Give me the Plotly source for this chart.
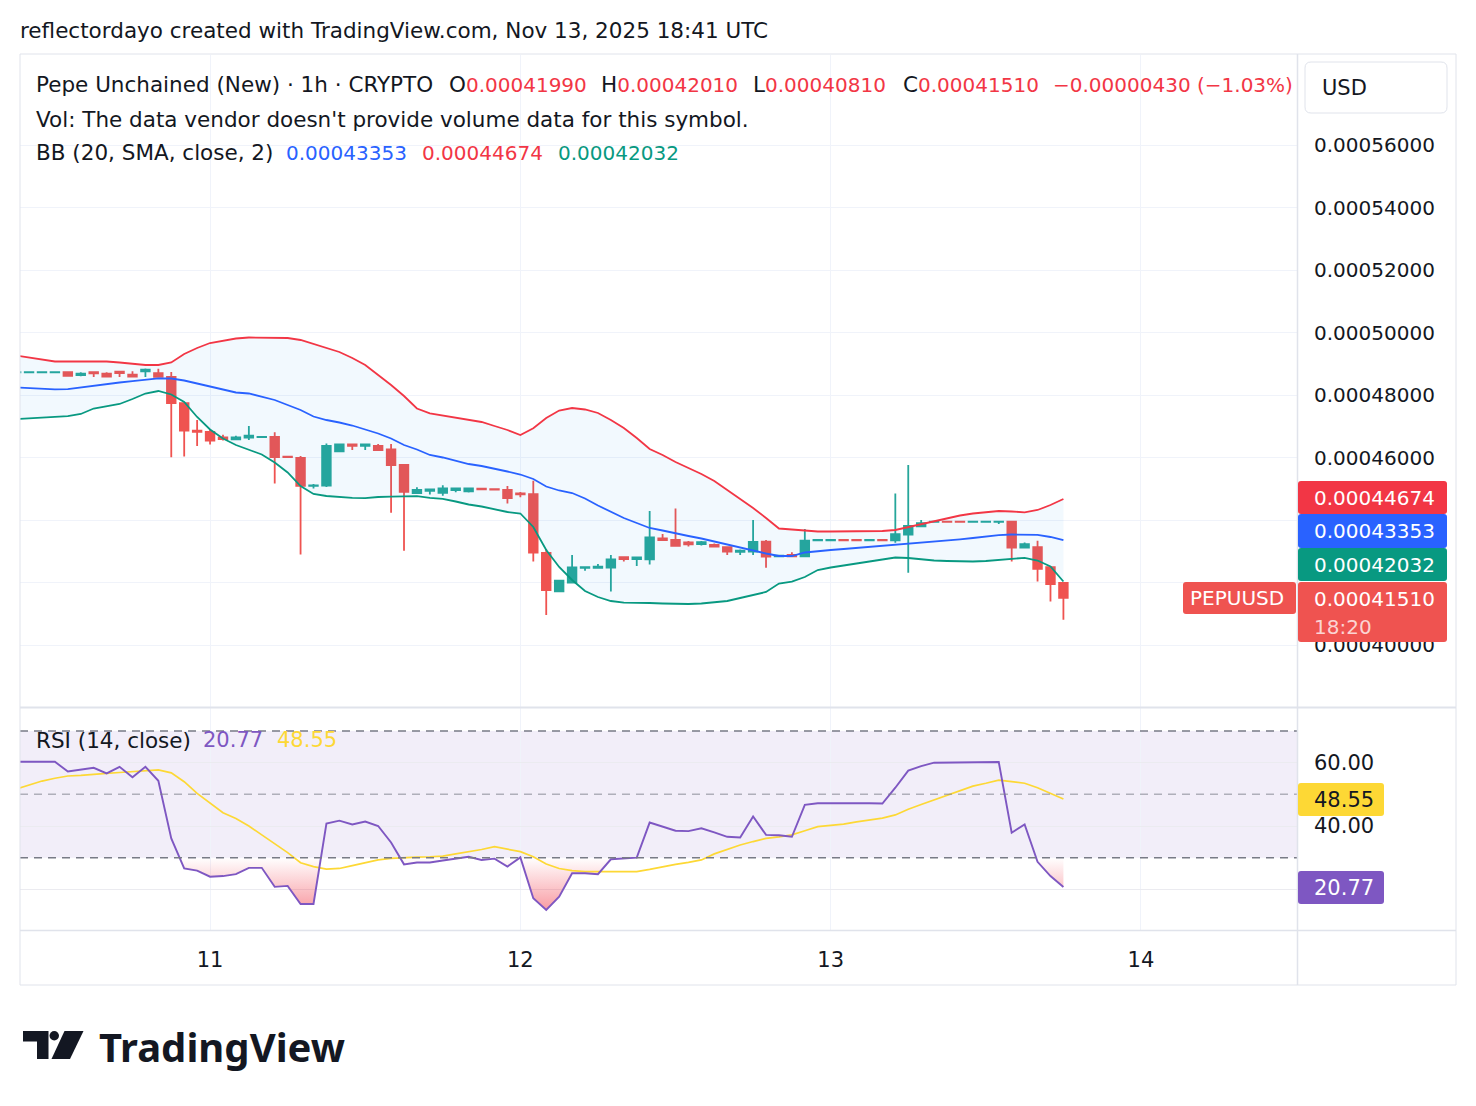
import numpy as np
import pandas as pd
import plotly.graph_objects as go

W, H = 1476, 1106

# ---------------- data ----------------
START = "2025-11-10 09:00"   # first hourly candle (UTC)
N_CANDLES = 82
times = pd.date_range(START, periods=N_CANDLES, freq="h")

UNIT = 1e-8  # prices below are written in units of 1e-8 USD

open_e8 = [48725, 48725, 48725, 48725, 48730, 48640, 48730, 48680, 48750, 48650,
           48760, 48700, 48580, 47740, 46860, 46820, 46640, 46580, 46640, 46650,
           46660, 46030, 45990, 45090, 45100, 46200, 46420, 46370, 46370, 46260,
           45760, 44860, 44930, 44870, 44960, 44920, 45000, 44990, 44960, 44850,
           44830, 42950, 41720, 42000, 42470, 42470, 42480, 42810, 42750, 42740,
           43410, 43360, 43280, 43230, 43200, 43130, 42980, 42990, 43310, 42840,
           42880, 42840, 43350, 43350, 43360, 43360, 43350, 43360, 43350, 43530,
           43800, 43940, 43950, 43950, 43940, 43940, 43940, 43950, 43120, 43130,
           42490, 41990]
high_e8 = [48730, 48730, 48730, 48730, 48730, 48730, 48730, 48730, 48750, 48760,
           48850, 48840, 48740, 47740, 47200, 46900, 46730, 46700, 47010, 46660,
           46810, 46030, 46050, 45150, 46450, 46440, 46420, 46420, 46430, 46430,
           45790, 45050, 44990, 45110, 45010, 45010, 45000, 44990, 45090, 44900,
           45260, 43070, 42060, 42880, 42490, 42590, 42880, 42810, 42800, 44290,
           43550, 44370, 43330, 43330, 43250, 43130, 43060, 44000, 43360, 42860,
           42970, 43710, 43360, 43360, 43360, 43360, 43360, 43360, 44850, 45760,
           44000, 43950, 43950, 43950, 43950, 43950, 43950, 43950, 43280, 43340,
           42530, 42010]
low_e8 = [48725, 48725, 48725, 48725, 48610, 48600, 48580, 48590, 48580, 48590,
          48580, 48580, 46010, 46030, 46370, 46420, 46540, 46560, 46560, 46650,
          45170, 46010, 42900, 45010, 45060, 46200, 46240, 46240, 46220, 44230,
          43020, 44860, 44820, 44780, 44890, 44880, 44980, 44970, 44530, 44730,
          42670, 40960, 41720, 42000, 42380, 42470, 41710, 42670, 42530, 42580,
          43360, 43170, 43150, 43180, 43150, 42880, 42880, 42880, 42470, 42840,
          42840, 42820, 43350, 43350, 43350, 43350, 43350, 43350, 43270, 42310,
          43800, 43940, 43940, 43940, 43940, 43940, 43870, 42670, 43120, 42030,
          41390, 40810]
close_e8 = [48730, 48730, 48730, 48730, 48610, 48680, 48690, 48590, 48700, 48590,
            48810, 48580, 47740, 46860, 46820, 46540, 46590, 46640, 46700, 46660,
            46010, 46010, 45090, 45110, 46370, 46420, 46370, 46420, 46240, 45760,
            44900, 44960, 44980, 45010, 45010, 45010, 44980, 44970, 44700, 44820,
            42960, 41760, 42060, 42480, 42490, 42510, 42740, 42750, 42800, 43440,
            43360, 43170, 43220, 43290, 43150, 42990, 43020, 43300, 42830, 42860,
            42840, 43340, 43360, 43360, 43350, 43350, 43360, 43350, 43550, 43810,
            43900, 43950, 43940, 43940, 43950, 43950, 43950, 43120, 43230, 42440,
            41950, 41510]

# Bollinger Bands (20, SMA, close, 2)
bb_upper_e8 = [49264, 49200, 49136, 49072, 49072, 49072, 49072, 49072, 49040, 48992,
               48960, 48960, 49040, 49312, 49504, 49664, 49744, 49808, 49840, 49840,
               49840, 49824, 49760, 49632, 49504, 49376, 49184, 48960, 48640, 48320,
               47968, 47568, 47414, 47344, 47296, 47216, 47136, 47008, 46880, 46720,
               46934, 47264, 47504, 47584, 47536, 47424, 47200, 46944, 46624, 46272,
               46080, 45856, 45664, 45472, 45248, 44960, 44672, 44384, 44064, 43728,
               43696, 43664, 43632, 43632, 43632, 43632, 43638, 43648, 43680, 43776,
               43872, 43968, 44064, 44144, 44208, 44256, 44288, 44272, 44246, 44320,
               44480, 44674]
bb_basis_e8 = [48240, 48214, 48192, 48182, 48186, 48240, 48304, 48352, 48400, 48442,
               48496, 48531, 48528, 48464, 48368, 48272, 48160, 48080, 48048, 47952,
               47840, 47680, 47520, 47312, 47200, 47120, 47024, 46896, 46768, 46608,
               46400, 46256, 46080, 46000, 45888, 45792, 45728, 45648, 45552, 45456,
               45312, 45072, 44944, 44864, 44688, 44464, 44256, 44064, 43904, 43744,
               43664, 43568, 43488, 43408, 43312, 43200, 43120, 43024, 42928, 42848,
               42848, 42960, 43008, 43040, 43072, 43104, 43136, 43168, 43200, 43232,
               43280, 43302, 43344, 43382, 43424, 43472, 43514, 43536, 43542, 43526,
               43456, 43353]
bb_lower_e8 = [47232, 47248, 47280, 47302, 47322, 47392, 47568, 47648, 47712, 47872,
               48048, 48128, 48016, 47776, 47296, 46896, 46608, 46400, 46240, 46096,
               45840, 45520, 45088, 44832, 44768, 44736, 44710, 44698, 44736, 44746,
               44752, 44762, 44710, 44678, 44592, 44496, 44432, 44352, 44256, 44208,
               43776, 43040, 42496, 42080, 41728, 41536, 41408, 41354, 41354, 41344,
               41328, 41312, 41312, 41328, 41360, 41408, 41504, 41600, 41696, 41968,
               42026, 42176, 42400, 42480, 42544, 42624, 42688, 42752, 42800, 42784,
               42742, 42704, 42688, 42672, 42672, 42688, 42726, 42752, 42790, 42704,
               42512, 42032]

# RSI (14, close) and its moving average
rsi_values = [60.3, 60.3, 60.3, 60.3, 57.2, 57.9, 58.4, 56.6, 58.7, 55.4,
              58.7, 54.3, 36.1, 26.6, 25.9, 24.0, 24.2, 24.8, 26.8, 26.8,
              20.8, 21.1, 15.4, 15.4, 40.8, 41.7, 40.5, 41.4, 40.0, 34.8,
              27.9, 28.5, 28.5, 29.1, 29.6, 30.3, 29.3, 29.7, 27.2, 30.1,
              17.2, 13.5, 17.7, 25.1, 25.1, 24.8, 29.5, 29.8, 30.0, 41.1,
              39.8, 38.5, 38.4, 39.3, 38.0, 36.6, 36.4, 43.0, 37.2, 37.1,
              36.6, 46.7, 47.2, 47.2, 47.2, 47.4, 47.2, 47.1, 52.1, 57.5,
              58.9, 60.0, 60.0, 60.0, 60.0, 60.0, 60.2, 37.9, 40.5, 28.7,
              24.2, 20.77]
rsi_ma_values = [51.7, 52.9, 54.2, 55.1, 55.8, 56.0, 56.4, 56.6, 56.9, 57.2,
                 57.5, 57.7, 56.8, 54.0, 50.3, 47.2, 44.2, 42.4, 40.0, 37.2,
                 34.3, 31.6, 28.4, 27.2, 26.4, 26.6, 27.5, 28.5, 29.3, 29.8,
                 30.1, 30.2, 30.3, 30.5, 31.2, 31.8, 32.6, 33.5, 32.6, 31.9,
                 30.3, 28.0, 26.6, 25.9, 25.6, 25.5, 25.6, 25.6, 25.6, 26.3,
                 27.2, 27.9, 28.5, 29.3, 31.2, 32.6, 34.0, 35.1, 36.1, 36.6,
                 37.2, 38.5, 39.8, 40.2, 40.6, 41.3, 41.9, 42.5, 43.5, 45.3,
                 46.8, 48.2, 49.8, 51.2, 52.6, 53.5, 54.5, 54.0, 53.5, 52.1,
                 50.3, 48.55]

price_ticks = [0.00040, 0.00042, 0.00044, 0.00046, 0.00048, 0.00050, 0.00052, 0.00054, 0.00056]
# labels hidden behind the last-value boxes are left blank (gridlines kept)
price_tick_text = ["0.00040000", "", "", "0.00046000", "0.00048000", "0.00050000",
                   "0.00052000", "0.00054000", "0.00056000"]
rsi_ticks = [20, 40, 60]
rsi_tick_text = ["", "40.00", "60.00"]
day_ticks = ["2025-11-11", "2025-11-12", "2025-11-13", "2025-11-14"]
day_labels = ["11", "12", "13", "14"]
RSI_UPPER, RSI_MID, RSI_LOWER = 70, 50, 30

symbol_line = "Pepe Unchained (New) · 1h · CRYPTO"
ohlc_labels = ["O", "H", "L", "C"]
ohlc_last = ["0.00041990", "0.00042010", "0.00040810", "0.00041510"]
change_text = "−0.00000430 (−1.03%)"
bb_last = ["0.00043353", "0.00044674", "0.00042032"]
rsi_last = ["20.77", "48.55"]

# ---------------- styling ----------------
FONT = "DejaVu Sans"
TXT = "#131722"
UP = "#26a69a"
DOWN = "#ef5350"
RED = "#F23645"
BLUE = "#2962FF"
TEAL = "#089981"
PURPLE = "#7E57C2"
YELLOW = "#FDD835"
GRID = "#f0f3fa"
BORDER = "#e0e3eb"
FS_TEXT = 21.5   # words
FS_NUM = 20      # price numbers
FS_RSI = 21      # RSI numbers / day labels

def px(x):
    return x / W

def py(y):
    return 1 - y / H

op = np.array(open_e8) * UNIT
hi = np.array(high_e8) * UNIT
lo = np.array(low_e8) * UNIT
cl = np.array(close_e8) * UNIT
bbu = np.array(bb_upper_e8) * UNIT
bbm = np.array(bb_basis_e8) * UNIT
bbl = np.array(bb_lower_e8) * UNIT

X_RANGE = ["2025-11-10 09:18", "2025-11-14 12:04"]

fig = go.Figure()

# Bollinger fill + lines
fig.add_trace(go.Scatter(x=times, y=bbl, mode="lines", line=dict(color=TEAL, width=1.8),
                         xaxis="x", yaxis="y", hoverinfo="skip"))
fig.add_trace(go.Scatter(x=times, y=bbu, mode="lines", line=dict(color=RED, width=1.8),
                         fill="tonexty", fillcolor="rgba(33,150,243,0.06)",
                         xaxis="x", yaxis="y", hoverinfo="skip"))
fig.add_trace(go.Scatter(x=times, y=bbm, mode="lines", line=dict(color=BLUE, width=1.8),
                         xaxis="x", yaxis="y", hoverinfo="skip"))

# candles
fig.add_trace(go.Candlestick(
    x=times, open=op, high=hi, low=lo, close=cl,
    increasing=dict(line=dict(color=UP, width=1.8), fillcolor=UP),
    decreasing=dict(line=dict(color=DOWN, width=1.8), fillcolor=DOWN),
    whiskerwidth=0, xaxis="x", yaxis="y", hoverinfo="skip"))

# RSI oversold gradient fill
rsi = np.array(rsi_values, dtype=float)
fx, fy = [], []
for k in range(len(rsi)):
    if k > 0:
        a, b = rsi[k - 1], rsi[k]
        if (a - RSI_LOWER) * (b - RSI_LOWER) < 0:
            f = (RSI_LOWER - a) / (b - a)
            fx.append(times[k - 1] + pd.Timedelta(hours=f))
            fy.append(RSI_LOWER)
    fx.append(times[k])
    fy.append(min(rsi[k], RSI_LOWER))
fig.add_trace(go.Scatter(x=[times[0], times[-1]], y=[RSI_LOWER, RSI_LOWER], mode="lines",
                         line=dict(width=0, color="rgba(0,0,0,0)"), xaxis="x2", yaxis="y2",
                         hoverinfo="skip"))
fig.add_trace(go.Scatter(x=fx, y=fy, mode="lines", line=dict(width=0, color="rgba(0,0,0,0)"),
                         fill="tonexty",
                         fillgradient=dict(type="vertical", start=10, stop=30,
                                           colorscale=[[0, "rgba(242,54,69,0.6)"],
                                                       [1, "rgba(242,54,69,0.0)"]]),
                         xaxis="x2", yaxis="y2", hoverinfo="skip"))

fig.add_trace(go.Scatter(x=times, y=rsi_ma_values, mode="lines", line=dict(color=YELLOW, width=1.7),
                         xaxis="x2", yaxis="y2", hoverinfo="skip"))
fig.add_trace(go.Scatter(x=times, y=rsi_values, mode="lines", line=dict(color=PURPLE, width=1.9),
                         xaxis="x2", yaxis="y2", hoverinfo="skip"))

XDOM = [px(20), px(1297)]

fig.update_layout(
    width=W, height=H, margin=dict(l=0, r=0, t=0, b=0),
    paper_bgcolor="white", plot_bgcolor="white",
    showlegend=False, hovermode=False,
    boxgap=0.3, boxgroupgap=0.05,
    xaxis=dict(domain=XDOM, anchor="y", range=X_RANGE, type="date",
               tickvals=day_ticks, showticklabels=False, showgrid=True, gridcolor=GRID,
               gridwidth=1, zeroline=False, showline=False, ticks="",
               rangeslider=dict(visible=False)),
    yaxis=dict(domain=[py(707), py(55)], anchor="x", side="right",
               range=[0.00038016, 0.0005888], tickvals=price_ticks, ticktext=price_tick_text,
               showgrid=True, gridcolor=GRID, zeroline=False, showline=False, ticks="",
               tickfont=dict(family=FONT, size=FS_NUM, color=TXT), ticklabelstandoff=16),
    xaxis2=dict(domain=XDOM, anchor="y2", range=X_RANGE, type="date",
                tickvals=day_ticks, ticktext=day_labels, showgrid=True, gridcolor=GRID,
                zeroline=False, showline=False, ticks="",
                tickfont=dict(family=FONT, size=FS_RSI, color=TXT), ticklabelstandoff=15),
    yaxis2=dict(domain=[py(930), py(708)], anchor="x2", side="right",
                range=[7.17, 77.27], tickvals=rsi_ticks, ticktext=rsi_tick_text,
                showgrid=True, gridcolor="#ebebf0", zeroline=False, showline=False,
                ticks="", tickfont=dict(family=FONT, size=FS_RSI, color=TXT),
                ticklabelstandoff=16),
)

shapes = []
# RSI band and levels
shapes.append(dict(type="rect", xref="x2 domain", yref="y2", x0=0, x1=1, y0=RSI_LOWER, y1=RSI_UPPER,
                   fillcolor="rgba(126,87,194,0.1)", line=dict(width=0), layer="below"))
for lvl, col in [(RSI_UPPER, "#787B86"), (RSI_MID, "rgba(120,123,134,0.55)"), (RSI_LOWER, "#787B86")]:
    shapes.append(dict(type="line", xref="x2 domain", yref="y2", x0=0, x1=1, y0=lvl, y1=lvl,
                       line=dict(color=col, width=1.5, dash="8px,6px"), layer="above"))

# frame lines
def hline(y, x0=20, x1=1456, w=1, c=BORDER):
    shapes.append(dict(type="line", xref="paper", yref="paper", x0=px(x0), x1=px(x1),
                       y0=py(y), y1=py(y), line=dict(color=c, width=w), layer="above"))

def vline(x, y0=54, y1=985, w=1, c=BORDER):
    shapes.append(dict(type="line", xref="paper", yref="paper", x0=px(x), x1=px(x),
                       y0=py(y0), y1=py(y1), line=dict(color=c, width=w), layer="above"))

hline(54)
hline(985)
hline(707.5, w=2)
hline(930.5, w=1.5)
vline(20)
vline(1456)
vline(1297.5, w=1.5)

def rbox(x0, y0, x1, y1, fill, r=3, line=None):
    p = (f"M {px(x0 + r)},{py(y0)} L {px(x1 - r)},{py(y0)} Q {px(x1)},{py(y0)} {px(x1)},{py(y0 + r)} "
         f"L {px(x1)},{py(y1 - r)} Q {px(x1)},{py(y1)} {px(x1 - r)},{py(y1)} "
         f"L {px(x0 + r)},{py(y1)} Q {px(x0)},{py(y1)} {px(x0)},{py(y1 - r)} "
         f"L {px(x0)},{py(y0 + r)} Q {px(x0)},{py(y0)} {px(x0 + r)},{py(y0)} Z")
    shapes.append(dict(type="path", xref="paper", yref="paper", path=p, fillcolor=fill,
                       line=dict(width=1 if line else 0, color=line or fill), layer="above"))

# USD box
rbox(1305, 62, 1447, 113, "white", r=6, line=BORDER)
# price label boxes
rbox(1298, 481, 1447, 514, RED)
rbox(1298, 514, 1447, 548, BLUE)
rbox(1298, 548, 1447, 581, TEAL)
rbox(1298, 582, 1447, 642, DOWN)
rbox(1183, 582, 1296, 614, DOWN)
# RSI label boxes
rbox(1298, 783, 1384, 816, YELLOW)
rbox(1298, 871, 1384, 904, PURPLE)

# TradingView logo mark
logo_T = (f"M {px(23)},{py(1031)} L {px(48.5)},{py(1031)} L {px(48.5)},{py(1059)} L {px(37)},{py(1059)} "
          f"L {px(37)},{py(1041.5)} L {px(23)},{py(1041.5)} Z")
shapes.append(dict(type="path", xref="paper", yref="paper", path=logo_T, fillcolor="#131722",
                   line=dict(width=0), layer="above"))
shapes.append(dict(type="circle", xref="paper", yref="paper", x0=px(49.5), x1=px(59), y0=py(1040.5),
                   y1=py(1031), fillcolor="#131722", line=dict(width=0), layer="above"))
logo_slash = (f"M {px(64.5)},{py(1031)} L {px(83.5)},{py(1031)} L {px(70)},{py(1059)} L {px(51.5)},{py(1059)} Z")
shapes.append(dict(type="path", xref="paper", yref="paper", path=logo_slash, fillcolor="#131722",
                   line=dict(width=0), layer="above"))

fig.update_layout(shapes=shapes)

ann = []

def txt(x, y, text, color=TXT, size=FS_TEXT, anchor="left", weight=None, family=FONT):
    f = dict(family=family, size=size, color=color)
    if weight:
        f["weight"] = weight
    ann.append(dict(xref="paper", yref="paper", x=px(x - 2), y=py(y), text=text, showarrow=False,
                    xanchor=anchor, yanchor="middle", font=f, align="left"))

txt(20, 31, "reflectordayo created with TradingView.com, Nov 13, 2025 18:41 UTC")
txt(36, 85, symbol_line)
for lab, val, xx in zip(ohlc_labels, ohlc_last, [449, 601, 753, 903]):
    txt(xx, 85, f"<span style='font-size:{FS_TEXT}px'>{lab}</span>"
                f"<span style='color:{RED}'>{val}</span>", size=FS_NUM)
txt(1053, 85, change_text, color=RED, size=FS_NUM)
txt(36, 119, "Vol: The data vendor doesn't provide volume data for this symbol.")
txt(36, 153, "BB (20, SMA, close, 2)")
txt(286, 153, bb_last[0], color=BLUE, size=FS_NUM)
txt(422, 153, bb_last[1], color=RED, size=FS_NUM)
txt(558, 153, bb_last[2], color=TEAL, size=FS_NUM)
txt(36, 740, "RSI (14, close)")
txt(203, 740, rsi_last[0], color=PURPLE, size=FS_RSI)
txt(277, 740, rsi_last[1], color=YELLOW, size=FS_RSI)

txt(1322, 88, "USD", size=FS_RSI)
txt(1314, 498, bb_last[1], color="white", size=FS_NUM)
txt(1314, 531, bb_last[0], color="white", size=FS_NUM)
txt(1314, 565, bb_last[2], color="white", size=FS_NUM)
txt(1314, 599, ohlc_last[3], color="white", size=FS_NUM)
txt(1314, 627, "18:20", color="rgba(255,255,255,0.75)", size=FS_NUM)
txt(1190, 598, "PEPUUSD", color="white", size=FS_NUM)
txt(1314, 800, rsi_last[1], color=TXT, size=FS_RSI)
txt(1314, 888, rsi_last[0], color="white", size=FS_RSI)

txt(99, 1046, "TradingView", color="#131722", size=40, weight=700, family="Noto Sans")

fig.update_layout(annotations=ann)

fig.write_html("out.html")
